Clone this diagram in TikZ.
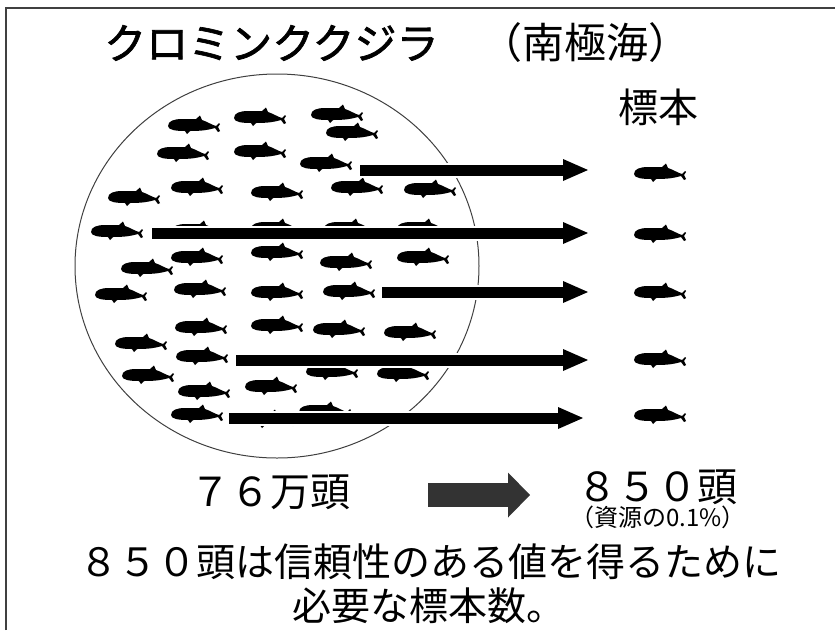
\documentclass[tikz,border=0pt]{standalone}
\usepackage{fontspec}
\setmainfont{Noto Sans CJK JP}
\newfontfamily\katafont{Noto Sans CJK JP}[FakeBold=1.6]
\usetikzlibrary{arrows.meta}
\tikzstyle{lbl}=[inner sep=0pt,font=\fontsize{40}{44}\selectfont]
\tikzstyle{take}=[line width=11pt,-{Triangle[length=25pt,width=22pt,line width=0pt]},preaction={draw=white,line width=15pt}]
\tikzstyle{bigarr}=[line width=24pt,black!80,-{Triangle[length=22pt,width=45pt,line width=0pt]}]
% one minke whale, head to the left
\tikzset{whale/.pic={
\fill[black] (-26,0) .. controls (-26,-5) and (-20,-7) .. (-12,-7) -- (2,-7) -- (6,-10.5) -- (8,-6)
  .. controls (14,-4) and (18,-1) .. (22,0) -- (25,-3) -- (26,-2) -- (24,1) -- (26,5) -- (24,6) -- (21,2)
  .. controls (14,4) and (8,5) .. (-4,5) -- (-7,8) -- (-9,5) .. controls (-18,5) and (-26,4) .. cycle;
}}

\begin{document}
\begin{tikzpicture}[x=1pt,y=-1pt]
\useasboundingbox (0,0) rectangle (835,630);
\draw[line width=1.5pt,black!75] (6,630) -- (6,8) -- (835,8);
\node[lbl,anchor=west,font=\fontsize{42}{46}\selectfont] (title) at (104,43) {{\katafont クロミンククジラ}　（南極海）};
\node[lbl] (hyo) at (658,107) {標本};

% the stock
\draw[black!75,line width=1pt] (277,266) ellipse [x radius=202,y radius=192];
\foreach \x/\y in {194/126,260/118,337/115,352/133,183/154,260/152,326/164,
  197/188,277/193,357/188,430/190,134/198,117/232,198/231,277/229,350/229,423/229,
  147/269,197/258,277/253,346/263,423/258,121/295,200/290,277/293,349/292,
  201/328,277/326,339/330,410/333,141/344,202/357,148/376,332/372,403/374,
  204/392,271/387,197/415,325/412,269/420}
  \pic at (\x,\y) {whale};

% sampling arrows
\coordinate (a1) at (360,170); \coordinate (b1) at (588,170);
\coordinate (a2) at (152,233); \coordinate (b2) at (588,233);
\coordinate (a3) at (382,292); \coordinate (b3) at (588,292);
\coordinate (a4) at (236,360); \coordinate (b4) at (588,360);
\coordinate (a5) at (229,418); \coordinate (b5) at (583,418);
\foreach \i in {1,...,5} \draw[take] (a\i) -- (b\i);
\foreach \y in {174,235,293,360,416} \pic at (660,\y) {whale};

\node[lbl] (pop) at (270,492) {７６万頭};
\coordinate (g1) at (428,495); \coordinate (g2) at (530,495);
\draw[bigarr] (g1) -- (g2);
\node[lbl] (smp) at (657,487) {８５０頭};
\node[lbl,font=\fontsize{24}{26}\selectfont] (pct) at (658,517) {（資源の0.1\%）};
\node[lbl,font=\fontsize{39}{44}\selectfont] (l1) at (430,562) {８５０頭は信頼性のある値を得るために};
\node[lbl,font=\fontsize{39}{44}\selectfont] (l2) at (429,606) {必要な標本数。};
\end{tikzpicture}
\end{document}
